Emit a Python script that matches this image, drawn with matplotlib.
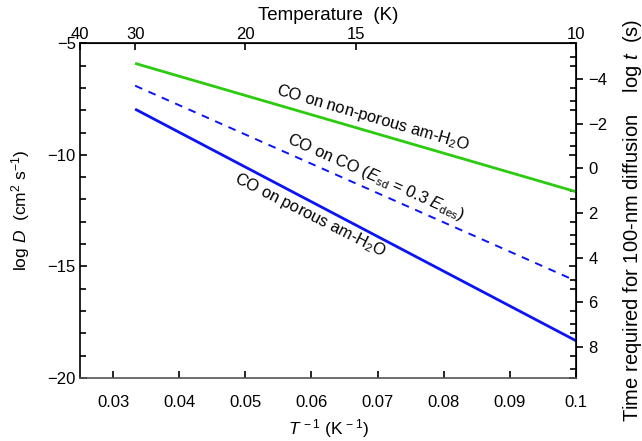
import matplotlib
matplotlib.use("Agg")
import matplotlib.pyplot as plt
import numpy as np
from matplotlib.ticker import MultipleLocator, FixedLocator

plt.rcParams['font.family'] = ['Liberation Sans', 'DejaVu Sans']
plt.rcParams['mathtext.fontset'] = 'custom'
plt.rcParams['mathtext.rm'] = 'Liberation Sans'
plt.rcParams['mathtext.it'] = 'Liberation Sans:italic'
plt.rcParams['mathtext.default'] = 'regular'

# Data (endpoints of log D vs 1/T lines)
inv_T = [1/30, 0.1]
logD_nonporous = [-5.9, -11.65]
logD_co = [-6.9, -15.65]
logD_porous = [-7.95, -18.33]

x_ticks = [0.03, 0.04, 0.05, 0.06, 0.07, 0.08, 0.09, 0.1]
x_ticklabels = ['0.03', '0.04', '0.05', '0.06', '0.07', '0.08', '0.09', '0.1']
temp_ticks = [40, 30, 20, 15, 10]
logt_ticks = [-4, -2, 0, 2, 4, 6, 8]
logt_offset = -10.6  # log t = -10.6 - log D

green = '#2ccb10'
blue = '#0a14f5'

TICK_FS = 12
LAB_FS = 12.5
IN_FS = 11.8

fig = plt.figure(figsize=(6.42, 4.41), dpi=100)
ax = fig.add_axes([80/642, 1-378/441, (576-80)/642, (378-43.3)/441])

ax.plot(inv_T, logD_nonporous, color=green, lw=2.0, solid_capstyle='butt')
ax.plot(inv_T, logD_co, color=blue, lw=1.4, ls=(0, (4, 3.5)))
ax.plot(inv_T, logD_porous, color=blue, lw=2.0, solid_capstyle='butt')

ax.set_xlim(0.025, 0.1)
ax.set_ylim(-20, -5)
ax.set_xticks(x_ticks)
ax.set_xticklabels(x_ticklabels)
ax.yaxis.set_major_locator(FixedLocator([-20, -15, -10, -5]))
ax.yaxis.set_minor_locator(MultipleLocator(1))
ax.tick_params(axis='both', which='major', direction='in', labelsize=TICK_FS, length=5, width=1.2)
ax.tick_params(axis='y', which='both', right=True)
ax.tick_params(axis='y', which='minor', direction='in', length=4, width=1.2)
ax.tick_params(axis='x', which='both', top=False)
ax.tick_params(axis='y', pad=3)
ax.tick_params(axis='x', pad=12)

ax.set_xlabel(r'$\mathit{T}^{\,-1}$ (K$^{\,-1}$)', fontsize=LAB_FS, labelpad=5)
ax.set_ylabel(r'log $\mathit{D}$  (cm$^2$ s$^{-1}$)', fontsize=LAB_FS, labelpad=11)

for s in ax.spines.values():
    s.set_linewidth(1.2)
ax.spines['bottom'].set_color('#555555')

# top temperature axis
top = ax.secondary_xaxis('top', functions=(lambda x: 1/np.where(x == 0, 1e-9, x),
                                            lambda t: 1/np.where(t == 0, 1e-9, t)))
top.set_xticks(temp_ticks)
top.set_xticklabels([str(t) for t in temp_ticks])
top.tick_params(direction='in', length=5, width=1.2, labelsize=TICK_FS, pad=1)
top.set_xlabel('Temperature  (K)', fontsize=13.5, labelpad=5)

# right log t axis
right = ax.secondary_yaxis('right', functions=(lambda d: logt_offset - d, lambda t: logt_offset - t))
right.yaxis.set_major_locator(FixedLocator(logt_ticks))
right.yaxis.set_minor_locator(FixedLocator([-5, -3, -1, 1, 3, 5, 7, 9]))
right.tick_params(which='major', direction='out', length=5, width=1.2, labelsize=TICK_FS, pad=4)
right.tick_params(which='minor', direction='in', length=4, width=1.2)
fig.text(632/642, 1-220/441, r'Time required for 100-nm diffusion    log $\mathit{t}$  (s)',
         fontsize=14.5, rotation=90, ha='center', va='center')

# rotated labels along lines
def angle(xs, ys):
    p = ax.transData.transform(np.column_stack([xs, ys]))
    return np.degrees(np.arctan2(p[1, 1] - p[0, 1], p[1, 0] - p[0, 0]))

ax.text(0.0692, -8.35, r'CO on non-porous am-H$_2$O', fontsize=IN_FS, ha='center', va='center',
        rotation=angle(inv_T, logD_nonporous), rotation_mode='anchor')
ax.text(0.0697, -11.0, r'CO on CO ($\mathit{E}_{sd}$ = 0.3 $\mathit{E}_{des}$)', fontsize=IN_FS,
        ha='center', va='center', rotation=angle(inv_T, logD_co), rotation_mode='anchor')
ax.text(0.0598, -12.7, r'CO on porous am-H$_2$O', fontsize=IN_FS, ha='center', va='center',
        rotation=angle(inv_T, logD_porous) + 1.0, rotation_mode='anchor')

fig.savefig('out.png', dpi=100)
